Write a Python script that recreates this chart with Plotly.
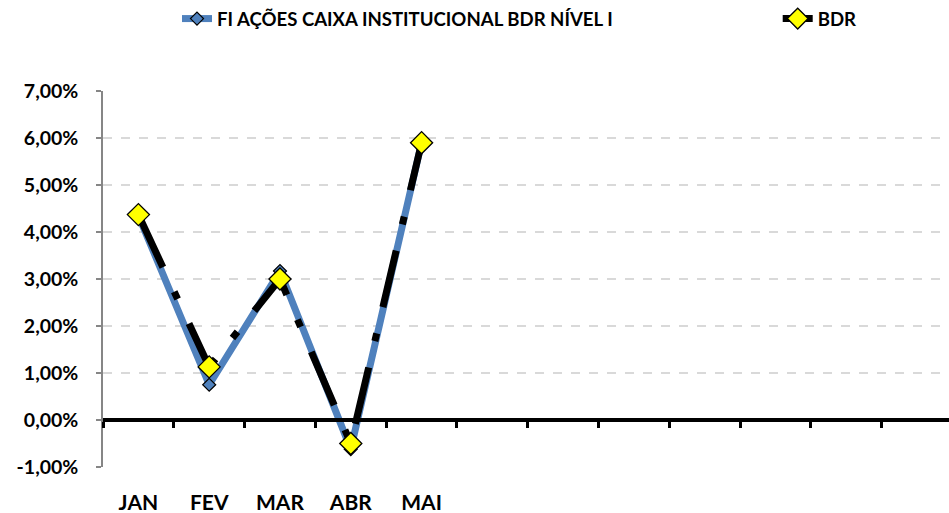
import plotly.graph_objects as go

months = ["JAN", "FEV", "MAR", "ABR", "MAI", "JUN", "JUL", "AGO", "SET", "OUT", "NOV", "DEZ"]
month_labels = ["JAN", "FEV", "MAR", "ABR", "MAI", "", "", "", "", "", "", ""]
data_months = ["JAN", "FEV", "MAR", "ABR", "MAI"]
fi_values = [4.35, 0.75, 3.17, -0.62, 5.90]
bdr_values = [4.37, 1.13, 3.00, -0.50, 5.90]
y_ticks = [-1, 0, 1, 2, 3, 4, 5, 6, 7]
y_labels = ["-1,00%", "0,00%", "1,00%", "2,00%", "3,00%", "4,00%", "5,00%", "6,00%", "7,00%"]
boundaries = [i - 0.5 for i in range(13)]

FONT = "Lato, Calibri, Carlito, sans-serif"

fig = go.Figure()
fig.add_trace(go.Scatter(
    x=data_months, y=fi_values, mode="lines+markers",
    name="<b>FI AÇÕES CAIXA INSTITUCIONAL BDR NÍVEL I</b>",
    legend="legend",
    line=dict(color="#4F81BD", width=7),
    marker=dict(symbol="diamond", size=10, color="#4F81BD", line=dict(color="black", width=1.2)),
))
fig.add_trace(go.Scatter(
    x=data_months, y=bdr_values, mode="lines+markers",
    name="<b>BDR</b>",
    legend="legend2",
    line=dict(color="black", width=7, dash="58px,27px,8px,27px"),
    marker=dict(symbol="diamond", size=17, color="#FFFF00", line=dict(color="black", width=1.3)),
))
# helper trace so the zero-crossing category axis (ticks between months) is drawn
fig.add_trace(go.Scatter(
    x=[None], y=[None], xaxis="x2", yaxis="y", mode="lines",
    showlegend=False, hoverinfo="skip",
))

legend_common = dict(
    orientation="h", xref="container", yref="container",
    xanchor="left", yanchor="middle",
    font=dict(family=FONT, size=18.6, color="black"),
    itemwidth=30, bgcolor="rgba(0,0,0,0)",
)

fig.update_layout(
    width=949, height=513,
    margin=dict(l=103, r=0, t=91, b=46, autoexpand=False),
    paper_bgcolor="white", plot_bgcolor="white",
    font=dict(family=FONT, color="black", size=19),
    showlegend=True,
    legend=dict(x=0.1865, y=0.963, **legend_common),
    legend2=dict(x=0.8195, y=0.963, **legend_common),
    xaxis=dict(
        type="category", categoryorder="array", categoryarray=months,
        range=[-0.5, 11.45], tickmode="array", tickvals=months, ticktext=month_labels,
        showline=False, showgrid=False, zeroline=False, ticks="",
        ticklabelstandoff=21,
        tickfont=dict(family=FONT, size=21, color="black", weight="bold"),
    ),
    xaxis2=dict(
        overlaying="x", anchor="free", position=0.125, side="bottom",
        range=[-0.5, 11.45], tickmode="array", tickvals=boundaries,
        showticklabels=False, showgrid=False, zeroline=False,
        showline=True, linecolor="black", linewidth=4,
        ticks="outside", ticklen=6, tickwidth=3, tickcolor="black",
    ),
    yaxis=dict(
        range=[-1, 7], tickmode="array", tickvals=y_ticks, ticktext=y_labels,
        showline=True, linecolor="#868686", linewidth=1.5,
        ticks="outside", ticklen=5, tickwidth=1.5, tickcolor="#868686",
        showgrid=True, gridcolor="#D9D9D9", gridwidth=1.5, griddash="dash",
        zeroline=False, ticklabelstandoff=14,
        tickfont=dict(family=FONT, size=19.5, color="black", weight="bold"),
    ),
)

fig.write_html("out.html", config={"displayModeBar": False},
               post_script="document.body.style.margin='0';")
